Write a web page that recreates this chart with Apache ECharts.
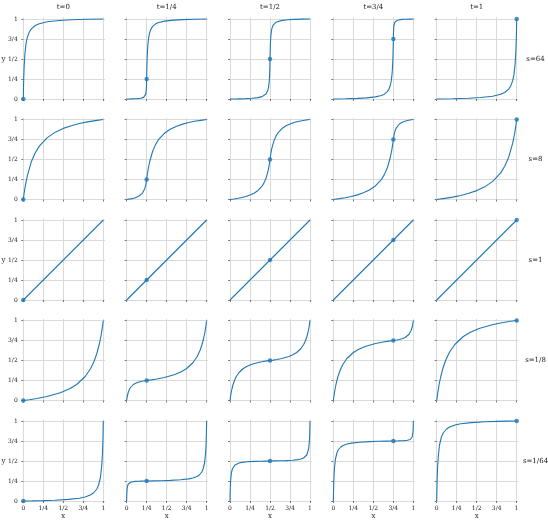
<!DOCTYPE html>
<html>
<head>
<meta charset="utf-8">
<script src="https://cdn.jsdelivr.net/npm/echarts@6/dist/echarts.min.js"></script>
<style>
  html, body { margin: 0; padding: 0; background: #fff; }
  #chart { width: 548px; height: 524px; }
</style>
</head>
<body>
<div id="chart"></div>
<script>
// panel labels
const colLabels = ['t=0', 't=1/4', 't=1/2', 't=3/4', 't=1']
const rowLabels = ['s=64', 's=8', 's=1', 's=1/8', 's=1/64']
const tValues = [0, 0.25, 0.5, 0.75, 1]
const tickValues = [0, 0.25, 0.5, 0.75, 1]
const tickLabels = ['0', '1/4', '1/2', '3/4', '1']

// curves, one array per column (t=0 .. t=1)
const curvesS64 = [
  [[0,0],[0.002,0.114],[0.005,0.243],[0.01,0.393],[0.02,0.566],[0.035,0.699],[0.05,0.771],[0.075,0.838],[0.1,0.877],[0.15,0.919],[0.2,0.941],[0.3,0.965],[0.45,0.981],[0.6,0.99],[0.8,0.996],[1,1]],
  [[0,0],[0.05,0.001],[0.1,0.0025],[0.1375,0.0048],[0.175,0.0088],[0.2,0.0148],[0.2125,0.0203],[0.225,0.0308],[0.2313,0.0405],[0.2375,0.0573],[0.2413,0.0753],[0.245,0.1085],[0.2475,0.1518],[0.2488,0.1893],[0.2495,0.2215],[0.25,0.25],[0.2515,0.3355],[0.2538,0.4323],[0.2575,0.5448],[0.265,0.6745],[0.2763,0.7743],[0.2875,0.8283],[0.3063,0.8785],[0.325,0.9078],[0.3625,0.9393],[0.4,0.9558],[0.475,0.9738],[0.5875,0.9858],[0.7,0.9925],[0.85,0.997],[1,1]],
  [[0,0],[0.1,0.002],[0.2,0.005],[0.275,0.0095],[0.35,0.0175],[0.4,0.0295],[0.425,0.0405],[0.45,0.0615],[0.4625,0.081],[0.475,0.1145],[0.4825,0.1505],[0.49,0.217],[0.495,0.3035],[0.4975,0.3785],[0.499,0.443],[0.5,0.5],[0.501,0.557],[0.5025,0.6215],[0.505,0.6965],[0.51,0.783],[0.5175,0.8495],[0.525,0.8855],[0.5375,0.919],[0.55,0.9385],[0.575,0.9595],[0.6,0.9705],[0.65,0.9825],[0.725,0.9905],[0.8,0.995],[0.9,0.998],[1,1]],
  [[0,0],[0.15,0.003],[0.3,0.0075],[0.4125,0.0143],[0.525,0.0263],[0.6,0.0443],[0.6375,0.0608],[0.675,0.0923],[0.6938,0.1215],[0.7125,0.1718],[0.7238,0.2258],[0.735,0.3255],[0.7425,0.4553],[0.7463,0.5678],[0.7485,0.6645],[0.75,0.75],[0.7505,0.7785],[0.7513,0.8108],[0.7525,0.8483],[0.755,0.8915],[0.7588,0.9248],[0.7625,0.9428],[0.7688,0.9595],[0.775,0.9693],[0.7875,0.9798],[0.8,0.9853],[0.825,0.9913],[0.8625,0.9953],[0.9,0.9975],[0.95,0.999],[1,1]],
  [[0,0],[0.2,0.004],[0.4,0.01],[0.55,0.019],[0.7,0.035],[0.8,0.059],[0.85,0.081],[0.9,0.123],[0.925,0.162],[0.95,0.229],[0.965,0.301],[0.98,0.434],[0.99,0.607],[0.995,0.757],[0.998,0.886],[1,1]]
]
const curvesS8 = [
  [[0,0],[0.01,0.075],[0.025,0.17],[0.05,0.296],[0.1,0.471],[0.15,0.585],[0.2,0.667],[0.3,0.774],[0.4,0.842],[0.5,0.889],[0.6,0.923],[0.7,0.949],[0.8,0.97],[0.9,0.986],[1,1]],
  [[0,0],[0.025,0.0035],[0.05,0.0075],[0.075,0.0128],[0.1,0.0193],[0.125,0.0278],[0.15,0.0395],[0.175,0.0565],[0.2,0.0833],[0.2125,0.1038],[0.225,0.1323],[0.2375,0.176],[0.2438,0.2075],[0.2475,0.2313],[0.25,0.25],[0.2575,0.3063],[0.2688,0.3775],[0.2875,0.472],[0.325,0.6033],[0.3625,0.6888],[0.4,0.7503],[0.475,0.8305],[0.55,0.8815],[0.625,0.9168],[0.7,0.9423],[0.775,0.9618],[0.85,0.9775],[0.925,0.9895],[1,1]],
  [[0,0],[0.05,0.007],[0.1,0.015],[0.15,0.0255],[0.2,0.0385],[0.25,0.0555],[0.3,0.079],[0.35,0.113],[0.4,0.1665],[0.425,0.2075],[0.45,0.2645],[0.475,0.352],[0.4875,0.415],[0.495,0.4625],[0.5,0.5],[0.505,0.5375],[0.5125,0.585],[0.525,0.648],[0.55,0.7355],[0.575,0.7925],[0.6,0.8335],[0.65,0.887],[0.7,0.921],[0.75,0.9445],[0.8,0.9615],[0.85,0.9745],[0.9,0.985],[0.95,0.993],[1,1]],
  [[0,0],[0.075,0.0105],[0.15,0.0225],[0.225,0.0383],[0.3,0.0578],[0.375,0.0833],[0.45,0.1185],[0.525,0.1695],[0.6,0.2498],[0.6375,0.3113],[0.675,0.3968],[0.7125,0.528],[0.7313,0.6225],[0.7425,0.6938],[0.75,0.75],[0.7525,0.7688],[0.7563,0.7925],[0.7625,0.824],[0.775,0.8678],[0.7875,0.8963],[0.8,0.9168],[0.825,0.9435],[0.85,0.9605],[0.875,0.9723],[0.9,0.9808],[0.925,0.9873],[0.95,0.9925],[0.975,0.9965],[1,1]],
  [[0,0],[0.1,0.014],[0.2,0.03],[0.3,0.051],[0.4,0.077],[0.5,0.111],[0.6,0.158],[0.7,0.226],[0.8,0.333],[0.85,0.415],[0.9,0.529],[0.95,0.704],[0.975,0.83],[0.99,0.925],[1,1]]
]
const curvesS1 = [
  [[0,0],[1,1]],
  [[0,0],[1,1]],
  [[0,0],[1,1]],
  [[0,0],[1,1]],
  [[0,0],[1,1]]
]
const curvesS1_8 = [
  [[0,0],[0.075,0.01],[0.17,0.025],[0.296,0.05],[0.471,0.1],[0.585,0.15],[0.667,0.2],[0.774,0.3],[0.842,0.4],[0.889,0.5],[0.923,0.6],[0.949,0.7],[0.97,0.8],[0.986,0.9],[1,1]],
  [[0,0],[0.0035,0.025],[0.0075,0.05],[0.0128,0.075],[0.0193,0.1],[0.0278,0.125],[0.0395,0.15],[0.0565,0.175],[0.0833,0.2],[0.1038,0.2125],[0.1323,0.225],[0.176,0.2375],[0.2075,0.2438],[0.2313,0.2475],[0.25,0.25],[0.3063,0.2575],[0.3775,0.2688],[0.472,0.2875],[0.6033,0.325],[0.6888,0.3625],[0.7503,0.4],[0.8305,0.475],[0.8815,0.55],[0.9168,0.625],[0.9423,0.7],[0.9618,0.775],[0.9775,0.85],[0.9895,0.925],[1,1]],
  [[0,0],[0.007,0.05],[0.015,0.1],[0.0255,0.15],[0.0385,0.2],[0.0555,0.25],[0.079,0.3],[0.113,0.35],[0.1665,0.4],[0.2075,0.425],[0.2645,0.45],[0.352,0.475],[0.415,0.4875],[0.4625,0.495],[0.5,0.5],[0.5375,0.505],[0.585,0.5125],[0.648,0.525],[0.7355,0.55],[0.7925,0.575],[0.8335,0.6],[0.887,0.65],[0.921,0.7],[0.9445,0.75],[0.9615,0.8],[0.9745,0.85],[0.985,0.9],[0.993,0.95],[1,1]],
  [[0,0],[0.0105,0.075],[0.0225,0.15],[0.0383,0.225],[0.0578,0.3],[0.0833,0.375],[0.1185,0.45],[0.1695,0.525],[0.2498,0.6],[0.3113,0.6375],[0.3968,0.675],[0.528,0.7125],[0.6225,0.7313],[0.6938,0.7425],[0.75,0.75],[0.7688,0.7525],[0.7925,0.7563],[0.824,0.7625],[0.8678,0.775],[0.8963,0.7875],[0.9168,0.8],[0.9435,0.825],[0.9605,0.85],[0.9723,0.875],[0.9808,0.9],[0.9873,0.925],[0.9925,0.95],[0.9965,0.975],[1,1]],
  [[0,0],[0.014,0.1],[0.03,0.2],[0.051,0.3],[0.077,0.4],[0.111,0.5],[0.158,0.6],[0.226,0.7],[0.333,0.8],[0.415,0.85],[0.529,0.9],[0.704,0.95],[0.83,0.975],[0.925,0.99],[1,1]]
]
const curvesS1_64 = [
  [[0,0],[0.114,0.002],[0.243,0.005],[0.393,0.01],[0.566,0.02],[0.699,0.035],[0.771,0.05],[0.838,0.075],[0.877,0.1],[0.919,0.15],[0.941,0.2],[0.965,0.3],[0.981,0.45],[0.99,0.6],[0.996,0.8],[1,1]],
  [[0,0],[0.001,0.05],[0.0025,0.1],[0.0048,0.1375],[0.0088,0.175],[0.0148,0.2],[0.0203,0.2125],[0.0308,0.225],[0.0405,0.2313],[0.0573,0.2375],[0.0753,0.2413],[0.1085,0.245],[0.1518,0.2475],[0.1893,0.2488],[0.2215,0.2495],[0.25,0.25],[0.3355,0.2515],[0.4323,0.2538],[0.5448,0.2575],[0.6745,0.265],[0.7743,0.2763],[0.8283,0.2875],[0.8785,0.3063],[0.9078,0.325],[0.9393,0.3625],[0.9558,0.4],[0.9738,0.475],[0.9858,0.5875],[0.9925,0.7],[0.997,0.85],[1,1]],
  [[0,0],[0.002,0.1],[0.005,0.2],[0.0095,0.275],[0.0175,0.35],[0.0295,0.4],[0.0405,0.425],[0.0615,0.45],[0.081,0.4625],[0.1145,0.475],[0.1505,0.4825],[0.217,0.49],[0.3035,0.495],[0.3785,0.4975],[0.443,0.499],[0.5,0.5],[0.557,0.501],[0.6215,0.5025],[0.6965,0.505],[0.783,0.51],[0.8495,0.5175],[0.8855,0.525],[0.919,0.5375],[0.9385,0.55],[0.9595,0.575],[0.9705,0.6],[0.9825,0.65],[0.9905,0.725],[0.995,0.8],[0.998,0.9],[1,1]],
  [[0,0],[0.003,0.15],[0.0075,0.3],[0.0143,0.4125],[0.0263,0.525],[0.0443,0.6],[0.0608,0.6375],[0.0923,0.675],[0.1215,0.6938],[0.1718,0.7125],[0.2258,0.7238],[0.3255,0.735],[0.4553,0.7425],[0.5678,0.7463],[0.6645,0.7485],[0.75,0.75],[0.7785,0.7505],[0.8108,0.7513],[0.8483,0.7525],[0.8915,0.755],[0.9248,0.7588],[0.9428,0.7625],[0.9595,0.7688],[0.9693,0.775],[0.9798,0.7875],[0.9853,0.8],[0.9913,0.825],[0.9953,0.8625],[0.9975,0.9],[0.999,0.95],[1,1]],
  [[0,0],[0.004,0.2],[0.01,0.4],[0.019,0.55],[0.035,0.7],[0.059,0.8],[0.081,0.85],[0.123,0.9],[0.162,0.925],[0.229,0.95],[0.301,0.965],[0.434,0.98],[0.607,0.99],[0.757,0.995],[0.886,0.998],[1,1]]
]
const curveRows = [curvesS64, curvesS8, curvesS1, curvesS1_8, curvesS1_64]

const FONT = 'DejaVu Serif'
const BLUE = '#1f77b4'
const panelLeft = 21.7
const panelTop = 17.4
const colStep = 103.35
const rowStep = 100.5
const panelSize = 83.2

const chart = echarts.init(document.getElementById('chart'), null, { renderer: 'canvas' })

const grid = []
const xAxis = []
const yAxis = []
const series = []
const graphic = []

function tickFormatter(v) {
  const i = tickValues.findIndex(t => Math.abs(t - v) < 1e-6)
  return i >= 0 ? tickLabels[i] : ''
}

for (let r = 0; r < 5; r++) {
  for (let c = 0; c < 5; c++) {
    const k = r * 5 + c
    grid.push({
      left: panelLeft + c * colStep,
      top: panelTop + r * rowStep,
      width: panelSize,
      height: panelSize
    })
    const axisCommon = {
      gridIndex: k,
      type: 'value',
      min: -0.02,
      max: 1.02,
      axisLine: { show: false },
      axisTick: { show: true, length: 2, customValues: tickValues, lineStyle: { color: '#777', width: 1 } },
      splitLine: { show: true, lineStyle: { color: '#dadada', width: 1 } }
    }
    xAxis.push(Object.assign({}, axisCommon, {
      axisLabel: {
        show: r === 4, customValues: tickValues, formatter: tickFormatter,
        margin: 3, fontSize: 6, fontFamily: FONT, color: '#222'
      }
    }))
    yAxis.push(Object.assign({}, axisCommon, {
      axisLabel: {
        show: c === 0, customValues: tickValues, formatter: tickFormatter,
        margin: 4, fontSize: 6, fontFamily: FONT, color: '#222'
      }
    }))
    series.push({
      type: 'line',
      xAxisIndex: k,
      yAxisIndex: k,
      data: curveRows[r][c],
      symbol: 'none',
      clip: false,
      lineStyle: { color: BLUE, width: 1.1 },
      silent: true
    })
    series.push({
      type: 'scatter',
      xAxisIndex: k,
      yAxisIndex: k,
      data: [[tValues[c], tValues[c]]],
      symbolSize: 4.5,
      clip: false,
      itemStyle: { color: BLUE },
      silent: true
    })
  }
}

colLabels.forEach((txt, c) => {
  graphic.push({
    type: 'text',
    x: panelLeft + c * colStep + panelSize / 2,
    y: 7,
    style: { text: txt, font: '7px "' + FONT + '"', fill: '#222', textAlign: 'center', textVerticalAlign: 'middle' }
  })
  graphic.push({
    type: 'text',
    x: panelLeft + c * colStep + panelSize / 2,
    y: 516,
    style: { text: 'x', font: '7px "' + FONT + '"', fill: '#222', textAlign: 'center', textVerticalAlign: 'middle' }
  })
})

rowLabels.forEach((txt, r) => {
  const cy = panelTop + r * rowStep + panelSize / 2
  graphic.push({
    type: 'text',
    x: 535.5,
    y: cy,
    style: { text: txt, font: '7px "' + FONT + '"', fill: '#222', textAlign: 'center', textVerticalAlign: 'middle' }
  })
  if (r % 2 === 0) {
    graphic.push({
      type: 'text',
      x: 3.5,
      y: cy,
      style: { text: 'y', font: '7px "' + FONT + '"', fill: '#222', textAlign: 'center', textVerticalAlign: 'middle' }
    })
  }
})

chart.setOption({
  animation: false,
  backgroundColor: '#fff',
  grid,
  xAxis,
  yAxis,
  series,
  graphic
})
</script>
</body>
</html>
